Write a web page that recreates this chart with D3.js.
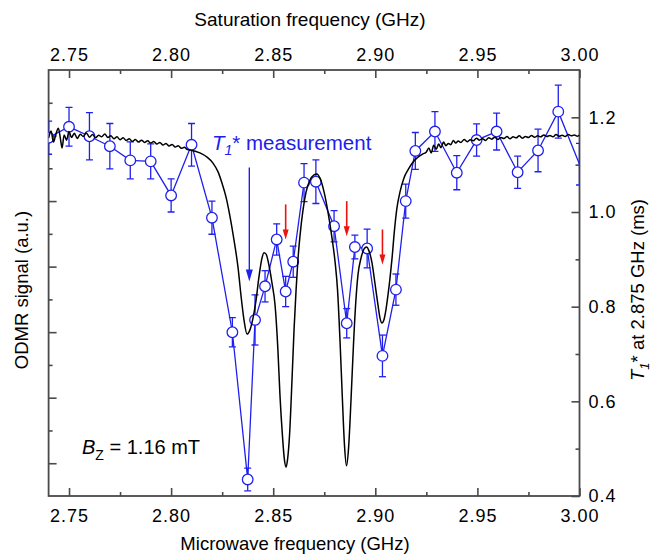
<!DOCTYPE html>
<html>
<head>
<meta charset="utf-8">
<script src="https://cdn.jsdelivr.net/npm/d3@7"></script>
<style>
  body { margin: 0; background: #fff; }
  svg { font-family: "Liberation Sans", Arial, sans-serif; }
</style>
</head>
<body>
<svg width="652" height="555"></svg>
<script>
// T1* measurement points (blue)
let t1Freq = [2.7400, 2.7500, 2.7600, 2.7700, 2.7800, 2.7900, 2.8000, 2.8100, 2.8200,
  2.8300, 2.8375, 2.8411, 2.8460, 2.8517, 2.8561, 2.8598, 2.8651, 2.8709, 2.8798,
  2.8860, 2.8900, 2.8960, 2.9035, 2.9101, 2.9149, 2.9196, 2.9292, 2.9399, 2.9496,
  2.9594, 2.9697, 2.9797, 2.9896, 3.0000];
let t1Value = [1.157, 1.180, 1.160, 1.139, 1.109, 1.107, 1.035, 1.142, 0.988,
  0.746, 0.435, 0.772, 0.843, 0.942, 0.832, 0.895, 1.062, 1.064, 0.970,
  0.765, 0.926, 0.923, 0.696, 0.836, 1.023, 1.129, 1.170, 1.083, 1.152,
  1.170, 1.084, 1.130, 1.212, 1.101];
let t1Err = [0.035, 0.041, 0.050, 0.048, 0.039, 0.037, 0.035, 0.045, 0.035,
  0.031, 0.024, 0.053, 0.033, 0.033, 0.032, 0.033, 0.040, 0.046, 0.033,
  0.031, 0.025, 0.041, 0.044, 0.033, 0.036, 0.039, 0.042, 0.036, 0.034,
  0.039, 0.034, 0.045, 0.056, 0.044];

// ODMR spectrum (black), signal in arbitrary units
let odmrFreq = [
  2.7400, 2.7412, 2.7424, 2.7436, 2.7448, 2.7458, 2.7466, 2.7476, 2.7488, 2.7500,
  2.7512, 2.7526, 2.7540, 2.7555, 2.7570, 2.7585, 2.7600, 2.7615, 2.7630, 2.7645,
  2.7660, 2.7675, 2.7690, 2.7705, 2.7720, 2.7735, 2.7750, 2.7765, 2.7780, 2.7795,
  2.7810, 2.7825, 2.7840, 2.7855, 2.7870, 2.7885, 2.7900, 2.7915, 2.7930, 2.7945,
  2.7960, 2.7975, 2.7990, 2.8005, 2.8020, 2.8035, 2.8050, 2.8065, 2.8080,
  2.8092, 2.8141, 2.8176, 2.8205, 2.8230, 2.8249, 2.8269, 2.8288, 2.8308, 2.8328,
  2.8342, 2.8357, 2.8372, 2.8386, 2.8401, 2.8416, 2.8430, 2.8445, 2.8455, 2.8465,
  2.8479, 2.8494, 2.8509, 2.8523, 2.8533, 2.8545, 2.8555, 2.8563, 2.8570, 2.8580,
  2.8592, 2.8602, 2.8612, 2.8621, 2.8631, 2.8646, 2.8661, 2.8680, 2.8700, 2.8714,
  2.8729, 2.8749, 2.8768, 2.8788, 2.8803, 2.8815, 2.8827, 2.8839, 2.8849, 2.8859,
  2.8869, 2.8881, 2.8893, 2.8905, 2.8915, 2.8930, 2.8945, 2.8957, 2.8969, 2.8984,
  2.8998, 2.9013, 2.9023, 2.9033, 2.9042, 2.9052, 2.9062, 2.9072, 2.9082, 2.9094,
  2.9106, 2.9121, 2.9140, 2.9160, 2.9185, 2.9209, 2.9233,
  2.9250, 2.9262, 2.9274, 2.9286, 2.9298, 2.9310, 2.9322, 2.9334, 2.9346, 2.9358,
  2.9370, 2.9382, 2.9394, 2.9406, 2.9420, 2.9435, 2.9450, 2.9465, 2.9480, 2.9495,
  2.9510, 2.9525, 2.9540, 2.9555, 2.9570, 2.9585, 2.9600, 2.9615, 2.9630, 2.9645,
  2.9660, 2.9675, 2.9690, 2.9705, 2.9720, 2.9735, 2.9750, 2.9765, 2.9780, 2.9795,
  2.9810, 2.9825, 2.9840, 2.9855, 2.9870, 2.9885, 2.9900, 2.9915, 2.9930, 2.9945,
  2.9960, 2.9975, 2.9990, 3.0000];
let odmrSignal = [
  10.92, 11.14, 10.80, 11.05, 11.22, 10.90, 10.62, 11.02, 10.86, 11.12,
  10.94, 11.07, 10.91, 11.04, 10.97, 11.08, 10.95, 11.03, 10.93, 11.01,
  10.96, 11.05, 10.94, 10.99, 10.90, 10.96, 10.87, 10.93, 10.85, 10.90,
  10.82, 10.88, 10.80, 10.86, 10.79, 10.84, 10.77, 10.82, 10.74, 10.79,
  10.71, 10.76, 10.68, 10.73, 10.65, 10.69, 10.61, 10.64, 10.57,
  10.56, 10.47, 10.34, 10.16, 9.89, 9.55, 9.12, 8.54, 7.81, 6.96,
  6.13, 5.37, 4.94, 5.07, 5.43, 5.98, 6.68, 7.26, 7.42, 7.38,
  7.05, 6.50, 5.83, 4.46, 3.08, 1.86, 1.10, 0.88, 1.10, 1.86,
  3.54, 5.07, 6.29, 7.20, 7.93, 8.73, 9.28, 9.64, 9.80, 9.83,
  9.70, 9.28, 8.67, 7.87, 7.14, 6.29, 4.76, 2.93, 1.56, 0.92,
  1.46, 2.93, 4.61, 5.98, 6.74, 7.26, 7.54, 7.60, 7.48, 7.11,
  6.50, 5.83, 5.43, 5.28, 5.37, 5.68, 6.13, 6.65, 7.26, 8.12,
  8.79, 9.28, 9.70, 9.95, 10.19, 10.34, 10.44,
  10.50, 10.62, 10.47, 10.70, 10.58, 10.74, 10.63, 10.80, 10.69, 10.76,
  10.72, 10.85, 10.77, 10.83, 10.79, 10.88, 10.81, 10.87, 10.84, 10.92,
  10.86, 10.90, 10.85, 10.93, 10.89, 10.95, 10.88, 10.94, 10.91, 10.97,
  10.90, 10.96, 10.93, 10.99, 10.92, 10.97, 10.94, 11.00, 10.95, 10.99,
  10.96, 11.02, 10.97, 11.00, 10.96, 11.03, 10.98, 11.01, 10.97, 11.03,
  10.99, 11.02, 10.98, 11.01];

// arrows: frequency, start and end on the T1* scale
let redArrowFreq = [2.8561, 2.8860, 2.9035];
let redArrowFrom = [1.016, 1.023, 0.963];
let redArrowTo = [0.942, 0.949, 0.889];
let blueArrow = { freq: 2.8383, from: 1.094, to: 0.853 };

// tick values
let freqMajor = [2.75, 2.80, 2.85, 2.90, 2.95, 3.00];
let freqMinor = [2.775, 2.825, 2.875, 2.925, 2.975];
let t1Major = [0.4, 0.6, 0.8, 1.0, 1.2];
let t1Minor = [0.5, 0.7, 0.9, 1.1];
let odmrMajor = [1, 3, 5, 7, 9, 11];
let odmrMinor = [2, 4, 6, 8, 10, 12];

let plotLeft = 48.6, plotRight = 579.5, plotTop = 70, plotBottom = 496;
let axisColor = "#4a4a4a";
let blue = "#2020ee";
let red = "#ee1111";

let svg = d3.select("svg");

let x = d3.scaleLinear().domain([2.74, 3.0]).range([plotLeft, plotRight]);
let yT = d3.scaleLinear().domain([0.4, 1.3]).range([plotBottom, plotTop]);
let yS = d3.scaleLinear().domain([0, 13]).range([plotBottom, plotTop]);

svg.append("clipPath").attr("id", "plot-clip")
  .append("rect")
  .attr("x", plotLeft).attr("y", plotTop)
  .attr("width", plotRight - plotLeft).attr("height", plotBottom - plotTop);

function styleAxis(g, withText) {
  g.attr("font-family", null).attr("font-size", null);
  g.select(".domain").remove();
  g.selectAll(".tick line").attr("stroke", axisColor).attr("stroke-width", 1.6);
  if (withText) {
    g.selectAll(".tick text").attr("fill", "#000")
      .style("font-size", "18px").style("letter-spacing", "1px");
  } else {
    g.selectAll(".tick text").remove();
  }
}

let fmt2 = d3.format(".2f");
let fmt1 = d3.format(".1f");

// bottom axis
svg.append("g").attr("transform", `translate(0,${plotBottom})`)
  .call(d3.axisBottom(x).tickValues(freqMinor).tickSize(-4).tickSizeOuter(0))
  .call(g => styleAxis(g, false));
svg.append("g").attr("transform", `translate(0,${plotBottom})`)
  .call(d3.axisBottom(x).tickValues(freqMajor).tickSize(-8).tickSizeOuter(0).tickPadding(13).tickFormat(fmt2))
  .call(g => styleAxis(g, true));

// top axis
svg.append("g").attr("transform", `translate(0,${plotTop})`)
  .call(d3.axisTop(x).tickValues(freqMinor).tickSize(-4).tickSizeOuter(0))
  .call(g => styleAxis(g, false));
svg.append("g").attr("transform", `translate(0,${plotTop})`)
  .call(d3.axisTop(x).tickValues(freqMajor).tickSize(-8).tickSizeOuter(0).tickPadding(9).tickFormat(fmt2))
  .call(g => styleAxis(g, true));

// left axis (no labels)
svg.append("g").attr("transform", `translate(${plotLeft},0)`)
  .call(d3.axisLeft(yS).tickValues(odmrMinor).tickSize(-4).tickSizeOuter(0))
  .call(g => styleAxis(g, false));
svg.append("g").attr("transform", `translate(${plotLeft},0)`)
  .call(d3.axisLeft(yS).tickValues(odmrMajor).tickSize(-8).tickSizeOuter(0))
  .call(g => styleAxis(g, false));

// right axis
svg.append("g").attr("transform", `translate(${plotRight},0)`)
  .call(d3.axisRight(yT).tickValues(t1Minor).tickSize(-4).tickSizeOuter(0))
  .call(g => styleAxis(g, false));
svg.append("g").attr("transform", `translate(${plotRight},0)`)
  .call(d3.axisRight(yT).tickValues(t1Major).tickSize(-8).tickSizeOuter(0).tickPadding(9).tickFormat(fmt1))
  .call(g => styleAxis(g, true));

// frame
svg.append("rect")
  .attr("x", plotLeft).attr("y", plotTop)
  .attr("width", plotRight - plotLeft).attr("height", plotBottom - plotTop)
  .attr("fill", "none").attr("stroke", axisColor).attr("stroke-width", 1.8);

let plot = svg.append("g").attr("clip-path", "url(#plot-clip)");

// T1* data
let t1Data = t1Freq.map((f, i) => ({ f: f, v: t1Value[i], e: t1Err[i] }));

plot.append("path")
  .datum(t1Data)
  .attr("fill", "none")
  .attr("stroke", blue)
  .attr("stroke-width", 1.3)
  .attr("d", d3.line().x(d => x(d.f)).y(d => yT(d.v)));

let bars = plot.selectAll(".err").data(t1Data).enter().append("g").attr("class", "err")
  .attr("stroke", blue).attr("stroke-width", 1.3);
bars.append("line")
  .attr("x1", d => x(d.f)).attr("x2", d => x(d.f))
  .attr("y1", d => yT(d.v - d.e)).attr("y2", d => yT(d.v + d.e));
bars.append("line")
  .attr("x1", d => x(d.f) - 3.5).attr("x2", d => x(d.f) + 3.5)
  .attr("y1", d => yT(d.v - d.e)).attr("y2", d => yT(d.v - d.e));
bars.append("line")
  .attr("x1", d => x(d.f) - 3.5).attr("x2", d => x(d.f) + 3.5)
  .attr("y1", d => yT(d.v + d.e)).attr("y2", d => yT(d.v + d.e));

plot.selectAll(".pt").data(t1Data.filter(d => d.f < 3.0)).enter().append("circle")
  .attr("class", "pt")
  .attr("cx", d => x(d.f)).attr("cy", d => yT(d.v))
  .attr("r", 5.3)
  .attr("fill", "#fff").attr("stroke", blue).attr("stroke-width", 1.3);

// ODMR spectrum
let odmrData = odmrFreq.map((f, i) => ({ f: f, s: odmrSignal[i] }));
plot.append("path")
  .datum(odmrData)
  .attr("fill", "none")
  .attr("stroke", "#000")
  .attr("stroke-width", 1.5)
  .attr("d", d3.line().x(d => x(d.f)).y(d => yS(d.s)).curve(d3.curveMonotoneX));

// arrows
function arrow(f, from, to, color, headW, headL, width) {
  let ax = x(f), y0 = yT(from), y1 = yT(to);
  svg.append("line")
    .attr("x1", ax).attr("x2", ax).attr("y1", y0).attr("y2", y1 - headL + 1)
    .attr("stroke", color).attr("stroke-width", width);
  svg.append("path")
    .attr("d", `M${ax - headW / 2},${y1 - headL} L${ax + headW / 2},${y1 - headL} L${ax},${y1} Z`)
    .attr("fill", color);
}
redArrowFreq.forEach((f, i) => arrow(f, redArrowFrom[i], redArrowTo[i], red, 6, 10, 1.6));
arrow(blueArrow.freq, blueArrow.from, blueArrow.to, blue, 7, 12, 1.4);

// annotation texts
let lab = svg.append("text").attr("x", 212).attr("y", 150)
  .attr("fill", blue).style("font-size", "20.5px");
lab.append("tspan").attr("font-style", "italic").text("T");
lab.append("tspan").attr("font-style", "italic").attr("dy", 5).style("font-size", "14px").text("1");
lab.append("tspan").attr("dy", -5).text("* measurement");

let bz = svg.append("text").attr("x", 82).attr("y", 454)
  .attr("fill", "#000").style("font-size", "20px");
bz.append("tspan").attr("font-style", "italic").text("B");
bz.append("tspan").attr("dy", 6).style("font-size", "14px").text("Z");
bz.append("tspan").attr("dy", -6).text(" = 1.16 mT");

// axis titles
svg.append("text").attr("x", 310).attr("y", 26).attr("text-anchor", "middle")
  .style("font-size", "19px").text("Saturation frequency (GHz)");
svg.append("text").attr("x", 295).attr("y", 550).attr("text-anchor", "middle")
  .style("font-size", "18.5px").text("Microwave frequency (GHz)");
svg.append("text").attr("transform", "translate(28,290) rotate(-90)").attr("text-anchor", "middle")
  .style("font-size", "18.5px").text("ODMR signal (a.u.)");

let rt = svg.append("text").attr("transform", "translate(644,290) rotate(-90)").attr("text-anchor", "middle")
  .style("font-size", "18.5px");
rt.append("tspan").attr("font-style", "italic").text("T");
rt.append("tspan").attr("font-style", "italic").attr("dy", 5).style("font-size", "13px").text("1");
rt.append("tspan").attr("dy", -5).text("* at 2.875 GHz (ms)");
</script>
</body>
</html>
